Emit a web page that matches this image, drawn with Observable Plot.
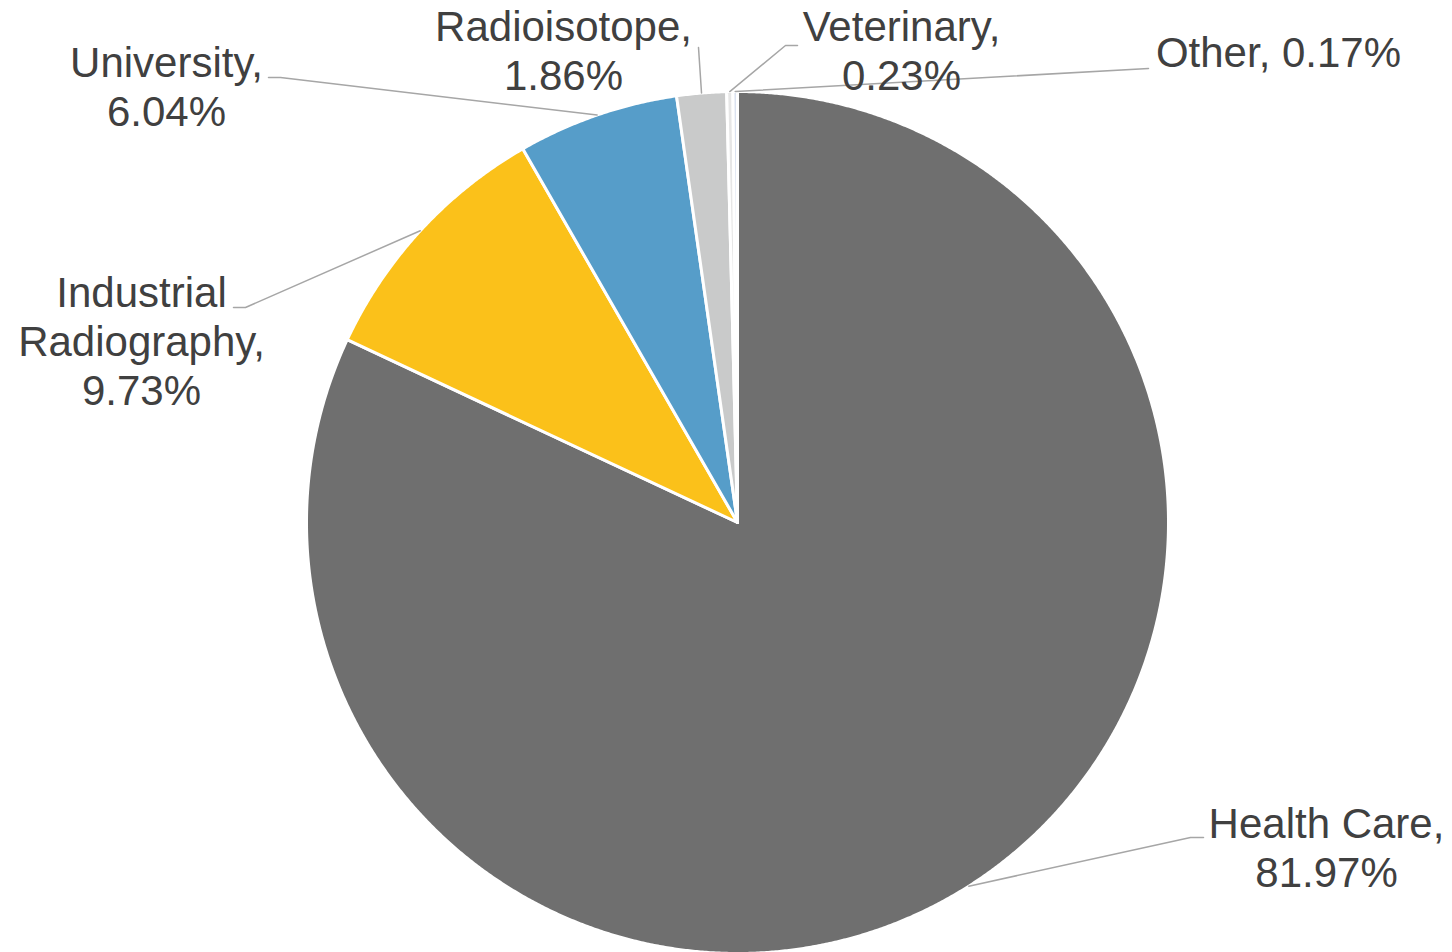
<!DOCTYPE html>
<html>
<head>
<meta charset="utf-8">
<script src="https://cdn.jsdelivr.net/npm/d3@7"></script>
<script src="https://cdn.jsdelivr.net/npm/@observablehq/plot@0.6"></script>
<style>
  html, body { margin: 0; padding: 0; background: #ffffff; }
  #chart svg { display: block; }
</style>
</head>
<body>
<div id="chart"></div>
<script>
// Share of licensees by sector (percent)
const sectors = ["Health Care", "Industrial Radiography", "University", "Radioisotope", "Veterinary", "Other"];
const shares = [81.97, 9.73, 6.04, 1.86, 0.23, 0.17];
const sliceColors = ["#6f6f6f", "#fbc11a", "#569dc9", "#c9caca", "#e6e6e6", "#dbe2f0"];

// How each label is broken into lines
const nameLines = [["Health Care"], ["Industrial", "Radiography"], ["University"], ["Radioisotope"], ["Veterinary"], ["Other"]];
const valueOnNewLine = [true, true, true, true, true, false];

// Canvas and pie geometry
const W = 1452, H = 952;
const CX = 737, CY = 522, R = 431;

// Label block centres and leader-line bends, in pixels from the pie centre
const labelAt = [[589, 324], [-596, -182], [-571, -437], [-174, -473], [164, -473], [541, -471]];
const leaderBends = [
  [[453, 315], [466, 315]],
  [[-492, -215], [-504, -215]],
  [[-457, -445], [-469, -445]],
  [[-39, -475]],
  [[48, -477], [60, -477]],
  [[411, -454]]
];

// angle measured clockwise from 12 o'clock
const polar = (a, r) => [r * Math.sin(a), -r * Math.cos(a)];

const total = d3.sum(shares);
let acc = 0;
const slices = sectors.map((name, i) => {
  const a0 = acc / total * 2 * Math.PI;
  acc += shares[i];
  const a1 = acc / total * 2 * Math.PI;
  return {name, value: shares[i], color: sliceColors[i], a0, a1, mid: (a0 + a1) / 2, i};
});

// slice outlines as closed polygons
const sliceMarks = slices.map(s => {
  const steps = Math.max(2, Math.ceil((s.a1 - s.a0) / (Math.PI / 720)));
  const pts = [{x: 0, y: 0}];
  for (let k = 0; k <= steps; k++) {
    const [x, y] = polar(s.a0 + (s.a1 - s.a0) * k / steps, R);
    pts.push({x, y});
  }
  return Plot.line(pts, {x: "x", y: "y", curve: "linear-closed", fill: s.color, stroke: "#ffffff", strokeWidth: 3, strokeLinejoin: "round"});
});

// leader lines start on the arc at each slice's mid-angle
const leaders = [];
slices.forEach(s => {
  const [sx, sy] = polar(s.mid, R);
  leaders.push({id: s.i, x: sx, y: sy});
  leaderBends[s.i].forEach(([x, y]) => leaders.push({id: s.i, x, y}));
});

const labels = slices.map(s => {
  const pct = s.value.toFixed(2) + "%";
  const head = nameLines[s.i].join("\n") + ",";
  return {
    x: labelAt[s.i][0],
    y: labelAt[s.i][1],
    text: valueOnNewLine[s.i] ? head + "\n" + pct : head + " " + pct
  };
});

const chart = Plot.plot({
  width: W,
  height: H,
  margin: 0,
  x: {domain: [-CX, W - CX], range: [0, W], axis: null},
  y: {domain: [-CY, H - CY], range: [0, H], axis: null},
  style: {background: "#ffffff", fontFamily: "'Liberation Sans', Arial, sans-serif"},
  marks: [
    ...sliceMarks,
    Plot.line(leaders, {x: "x", y: "y", z: "id", stroke: "#a6a6a6", strokeWidth: 1.5}),
    Plot.text(labels, {
      x: "x", y: "y", text: "text",
      fontSize: 42, lineHeight: 1.17,
      fill: "#404040", textAnchor: "middle",
      fontFamily: "'Liberation Sans', Arial, sans-serif"
    })
  ]
});

document.getElementById("chart").appendChild(chart);
</script>
</body>
</html>
